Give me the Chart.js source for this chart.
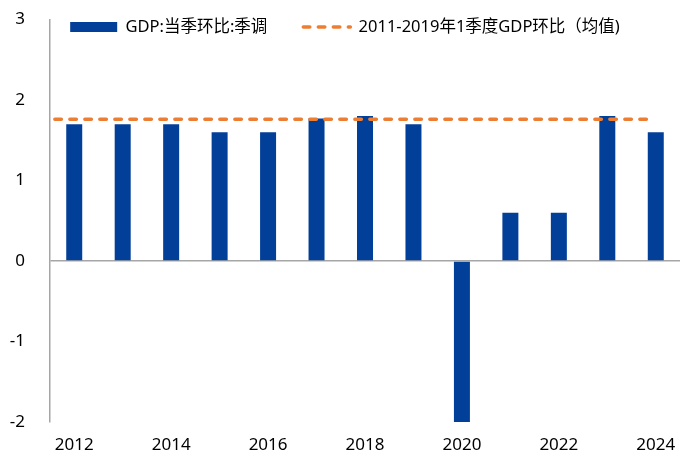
<!DOCTYPE html>
<html>
<head>
<meta charset="utf-8">
<script src="https://cdn.jsdelivr.net/npm/chart.js@4/dist/chart.umd.min.js"></script>
<style>
html,body{margin:0;padding:0;background:#fff;}
#wrap{width:700px;height:467px;}
</style>
</head>
<body>
<div id="wrap"><canvas id="c" width="700" height="467"></canvas></div>
<script>
// ---- data ----
const categories = ['2012','2013','2014','2015','2016','2017','2018','2019','2020','2021','2022','2023','2024'];
const gdpQoQ = [1.7, 1.7, 1.7, 1.6, 1.6, 1.77, 1.8, 1.7, -2.0, 0.6, 0.6, 1.8, 1.6];
const avgValue = 1.76;
const avgSpan = [-0.4, 11.9]; // category-index extent of the average line
const yTicks = [-2, -1, 0, 1, 2, 3];
const seriesNames = ['GDP:当季环比:季调', '2011-2019年1季度GDP环比（均值)'];

const FONT = '"Noto Sans", "Noto Sans CJK SC", sans-serif';
const BLUE = '#023F98';
const ORANGE = '#ED7D31';
const AXIS = '#A6A6A6';
const LEGEND_PAD = 36;
const LEGEND_FONT = 16.5;
const DASH = [6.5, 8.5];

const legendShift = {
  id: 'legendShift',
  beforeLayout(chart) {
    const lg = chart.legend;
    if (lg && !lg._patched) {
      const orig = lg.fit;
      lg.fit = function () { orig.call(this); this.height = 19.5; };
      lg._patched = true;
    }
  },
  afterLayout(chart) {
    const lg = chart.legend;
    if (!lg) return;
    const t = 27 - LEGEND_PAD - LEGEND_FONT / 2;
    lg.top = t;
    lg.bottom = t + 80;
    lg.height = 80;
  }
};

new Chart(document.getElementById('c'), {
  data: {
    labels: categories,
    datasets: [
      {
        type: 'bar',
        label: seriesNames[0],
        data: gdpQoQ,
        backgroundColor: BLUE,
        borderWidth: 0,
        grouped: false,
        barPercentage: 0.33,
        categoryPercentage: 1,
        pointStyle: 'rect',
        order: 1,
        xAxisID: 'x',
        yAxisID: 'y'
      },
      {
        type: 'line',
        label: seriesNames[1],
        data: avgSpan.map(x => ({x: x, y: avgValue})),
        borderColor: ORANGE,
        backgroundColor: ORANGE,
        borderWidth: 3.5,
        borderDash: DASH,
        borderCapStyle: 'round',
        pointRadius: 0,
        fill: false,
        pointStyle: 'line',
        order: 0,
        xAxisID: 'x2',
        yAxisID: 'y'
      }
    ]
  },
  options: {
    responsive: false,
    animation: false,
    devicePixelRatio: 1,
    layout: { padding: { left: 10, right: 20, top: 0, bottom: 0 } },
    plugins: {
      tooltip: { enabled: false },
      legend: {
        position: 'top',
        labels: {
          usePointStyle: true,
          pointStyleWidth: 47,
          boxHeight: 10,
          padding: LEGEND_PAD,
          color: '#000',
          font: { family: FONT, size: LEGEND_FONT },
          sort: (a, b) => a.datasetIndex - b.datasetIndex,
          generateLabels: (chart) => {
            const items = Chart.defaults.plugins.legend.labels.generateLabels(chart);
            items.forEach(it => {
              if (it.datasetIndex === 1) {
                it.lineDash = DASH;
                it.lineCap = 'round';
                it.lineWidth = 3.5;
                it.strokeStyle = ORANGE;
                it.fillStyle = ORANGE;
                it.pointStyle = 'line';
              } else {
                it.pointStyle = 'rect';
                it.fillStyle = BLUE;
                it.lineWidth = 0;
              }
            });
            return items;
          }
        }
      }
    },
    scales: {
      x: {
        type: 'category',
        offset: true,
        grid: { display: false, drawTicks: false },
        border: { display: false },
        afterFit: (s) => { s.height = 45; s.paddingLeft = 0; s.paddingRight = 0; },
        ticks: {
          autoSkip: false,
          maxRotation: 0,
          padding: 12.5,
          color: '#000',
          font: { family: FONT, size: 17 },
          callback: function (v, i) { return i % 2 === 0 ? categories[i] : ''; }
        }
      },
      x2: {
        type: 'linear',
        display: false,
        min: -0.5,
        max: categories.length - 0.5
      },
      y: {
        min: yTicks[0],
        max: yTicks[yTicks.length - 1],
        afterBuildTicks: (s) => { s.ticks = yTicks.map(v => ({value: v})); },
        afterFit: (s) => { s.width = 40; s.paddingTop = 0; s.paddingBottom = 0; },
        grid: {
          drawTicks: false,
          color: (ctx) => (ctx.tick && ctx.tick.value === 0 ? AXIS : 'rgba(0,0,0,0)'),
          lineWidth: 1.5
        },
        border: { display: true, color: AXIS, width: 1.5 },
        ticks: {
          padding: 25,
          color: '#000',
          font: { family: FONT, size: 17 }
        }
      }
    }
  },
  plugins: [legendShift]
});
</script>
</body>
</html>
